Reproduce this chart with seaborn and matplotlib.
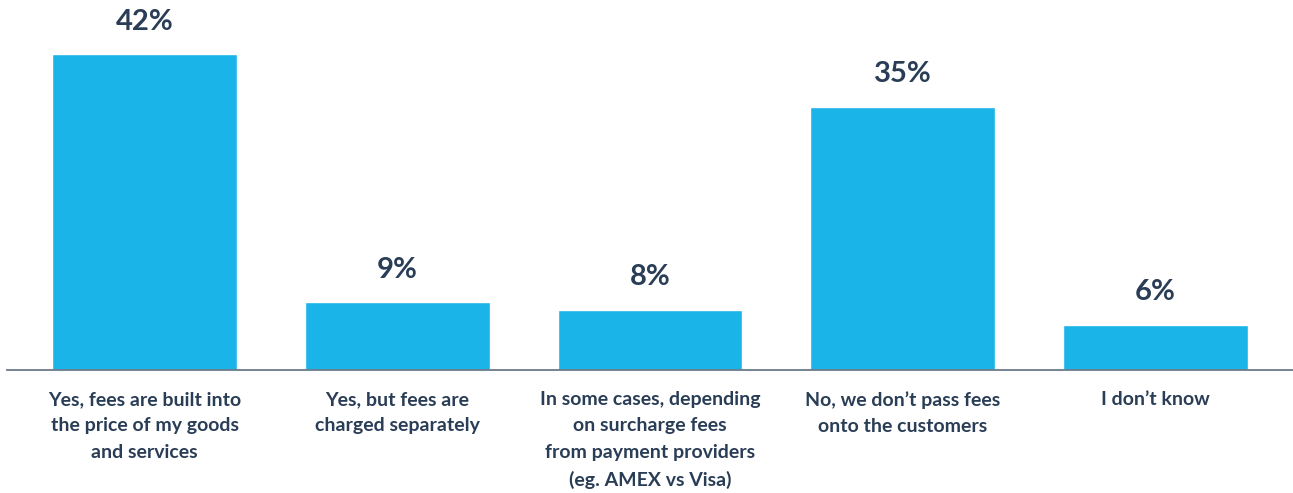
import matplotlib
matplotlib.use("Agg")
import matplotlib.pyplot as plt
import seaborn as sns
import pandas as pd

# Data
categories = [
    "Yes, fees are built into\nthe price of my goods\nand services",
    "Yes, but fees are\ncharged separately",
    "In some cases, depending\non surcharge fees\nfrom payment providers\n(eg. AMEX vs Visa)",
    "No, we don\u2019t pass fees\nonto the customers",
    "I don\u2019t know",
]
values = [42, 9, 8, 35, 6]

BAR_COLOR = "#1ab4e8"
TEXT_COLOR = "#2a3d56"
AXIS_COLOR = "#6b7a8a"

sns.set_theme(style="white")
plt.rcParams['font.family'] = ['Lato', 'DejaVu Sans']

df = pd.DataFrame({"answer": categories, "pct": values})

fig = plt.figure(figsize=(12.93, 4.93), dpi=100)
ax = fig.add_axes([7 / 1293, 123 / 493, 1286 / 1293, 370 / 493])

sns.barplot(data=df, x="answer", y="pct", color=BAR_COLOR, width=0.732,
            saturation=1, ax=ax)

ax.set_xlim(-0.545, 4.545)
ax.set_ylim(0, 49.2)

for cont in ax.containers:
    ax.bar_label(cont, labels=[f"{v}%" for v in values], padding=14,
                 fontsize=21, color=TEXT_COLOR, fontweight="bold")

ax.set_xlabel("")
ax.set_ylabel("")
ax.set_yticks([])
ax.tick_params(axis="x", length=0, pad=15)
for lbl in ax.get_xticklabels():
    lbl.set_fontsize(14)
    lbl.set_fontweight("bold")
    lbl.set_color(TEXT_COLOR)
    lbl.set_linespacing(1.68)
    lbl.set_verticalalignment("top")

for side in ["top", "right", "left"]:
    ax.spines[side].set_visible(False)
ax.spines["bottom"].set_color(AXIS_COLOR)
ax.spines["bottom"].set_linewidth(1.3)

fig.savefig("out.png", dpi=100)
